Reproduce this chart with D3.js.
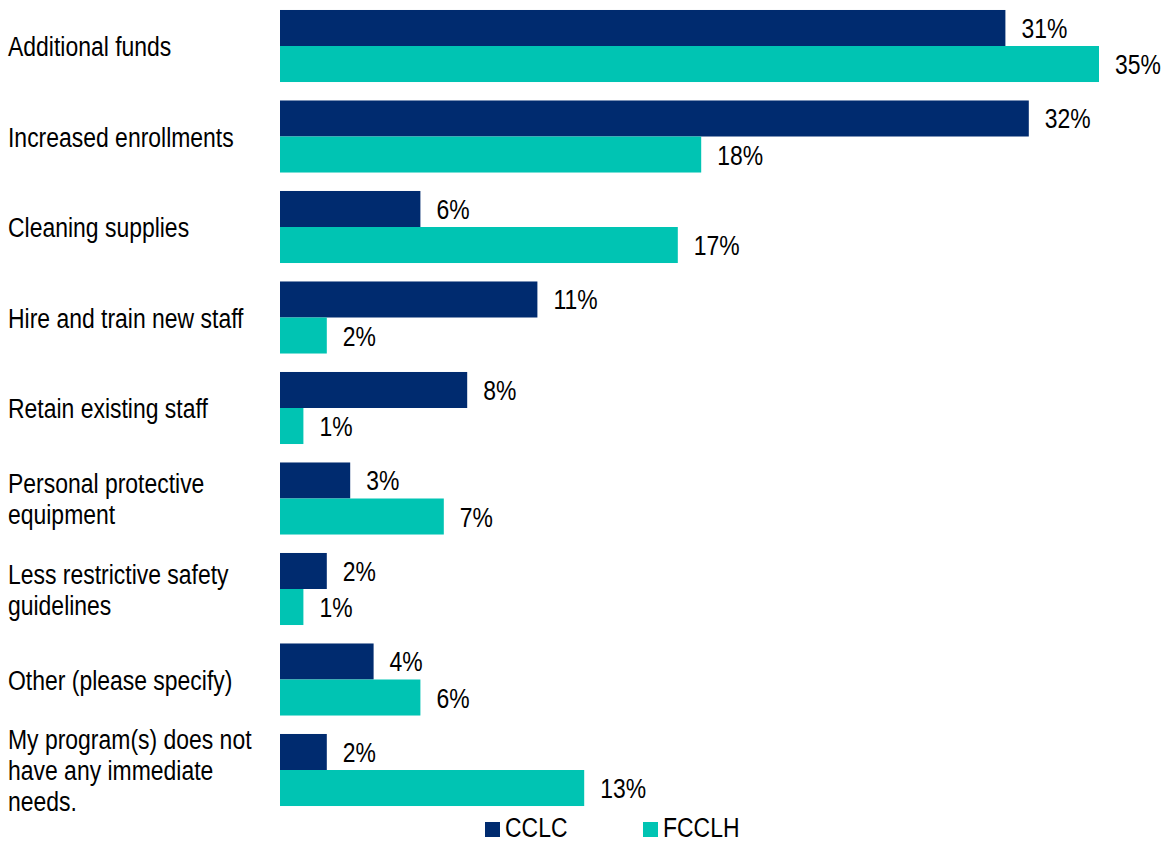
<!DOCTYPE html>
<html>
<head>
<meta charset="utf-8">
<script src="https://cdn.jsdelivr.net/npm/d3@7"></script>
<style>
  html, body { margin: 0; padding: 0; background: #fff; }
  svg { display: block; }
  text { font-family: "Liberation Sans", Arial, sans-serif; fill: #000; }
</style>
</head>
<body>
<svg id="chart" width="1163" height="842"></svg>
<script>
// Categories (label lines) and percentages per program type
const categories = [
  ["Additional funds"],
  ["Increased enrollments"],
  ["Cleaning supplies"],
  ["Hire and train new staff"],
  ["Retain existing staff"],
  ["Personal protective", "equipment"],
  ["Less restrictive safety", "guidelines"],
  ["Other (please specify)"],
  ["My program(s) does not", "have any immediate", "needs."]
];
const seriesNames = ["CCLC", "FCCLH"];
const cclc  = [31, 32, 6, 11, 8, 3, 2, 4, 2];
const fcclh = [35, 18, 17, 2, 1, 7, 1, 6, 13];
const colors = ["#002B6F", "#00C4B3"];

const FONT = 27, SX = 0.85, LINE = 31;

const svg = d3.select("#chart");
const x = d3.scaleLinear().domain([0, 35]).range([280, 1099]);
const y = d3.scaleBand().domain(d3.range(categories.length))
  .range([0.75, 815.25]).paddingInner(0.204).paddingOuter(0.102);
const ySub = d3.scaleBand().domain(seriesNames).range([0, y.bandwidth()]);

const rows = categories.map((c, i) => ({ i, lines: c, vals: [cclc[i], fcclh[i]] }));

const g = svg.append("g");
const row = g.selectAll("g.row").data(rows).join("g")
  .attr("class", "row")
  .attr("transform", d => `translate(0,${y(d.i)})`);

// Bars
row.selectAll("rect").data(d => d.vals.map((v, k) => ({ v, k })))
  .join("rect")
  .attr("x", x(0))
  .attr("y", d => ySub(seriesNames[d.k]))
  .attr("width", d => x(d.v) - x(0))
  .attr("height", ySub.bandwidth())
  .attr("fill", d => colors[d.k]);

// Value labels
row.selectAll("text.val").data(d => d.vals.map((v, k) => ({ v, k })))
  .join("text")
  .attr("class", "val")
  .attr("transform", d => `translate(${x(d.v) + 16},${ySub(seriesNames[d.k]) + ySub.bandwidth() / 2 + 10}) scale(${SX},1)`)
  .style("font-size", FONT + "px")
  .text(d => d.v + "%");

// Category labels
row.each(function(d) {
  const n = d.lines.length;
  const c = y.bandwidth() / 2;
  const first = c - (n - 1) * LINE / 2 + 10;
  d3.select(this).selectAll("text.cat").data(d.lines).join("text")
    .attr("class", "cat")
    .attr("transform", (t, j) => `translate(8,${first + j * LINE}) scale(${SX},1)`)
    .style("font-size", FONT + "px")
    .text(t => t);
});

// Legend
const legendX = [485, 643];
const leg = svg.append("g").selectAll("g").data(seriesNames).join("g")
  .attr("transform", (d, k) => `translate(${legendX[k]},822)`);
leg.append("rect").attr("width", 15).attr("height", 15).attr("fill", (d, k) => colors[k]);
leg.append("text")
  .attr("transform", `translate(20,15) scale(${SX},1)`)
  .style("font-size", FONT + "px")
  .text(d => d);
</script>
</body>
</html>
